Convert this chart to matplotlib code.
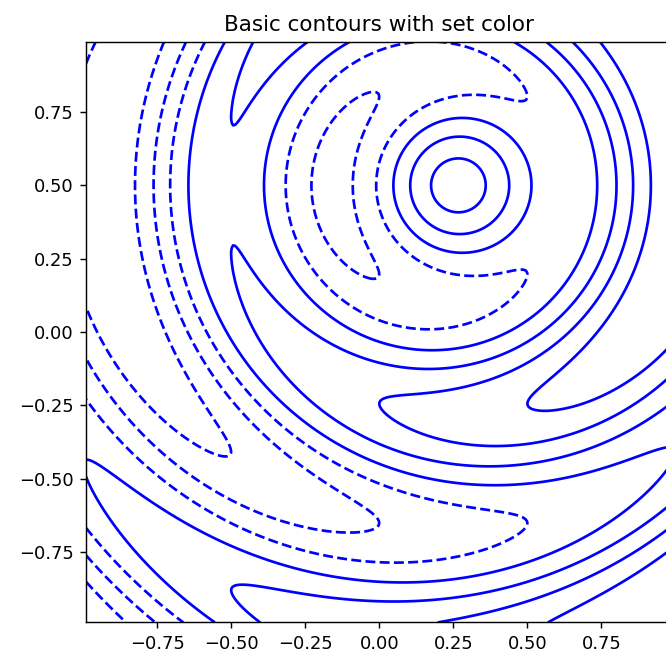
import numpy as np
import matplotlib
matplotlib.use('Agg')
import matplotlib.pyplot as plt

#field settings
x_range = [-0.99, 0.99]
y_range = [-0.99, 0.99]
center = [0.25, 0.5]
wave_number = 8.0
tilt = 1.0
levels = [-2.5, -2.0, -1.5, -1.0, -0.5, 0.0, 0.5, 1.0, 1.5, 2.0, 2.5]
ticks = [-0.75, -0.5, -0.25, 0.0, 0.25, 0.5, 0.75]

#building the grid
x = np.linspace(x_range[0], x_range[1], 300)
y = np.linspace(y_range[0], y_range[1], 300)
X, Y = np.meshgrid(x, y)
R = np.sqrt((X - center[0])**2 + (Y - center[1])**2)
Z = np.cos(wave_number * R) + tilt * X

dpi = 129
fig = plt.figure(figsize=(666 / dpi, 661 / dpi), dpi=dpi)
ax = fig.add_axes([0.1291, 0.0584, 0.8807, 0.8786])
ax.contour(X, Y, Z, levels=levels, colors='blue', linewidths=1.5)
ax.set_xticks(ticks)
ax.set_yticks(ticks)
ax.set_title('Basic contours with set color')
plt.savefig('out.png', dpi=dpi)
